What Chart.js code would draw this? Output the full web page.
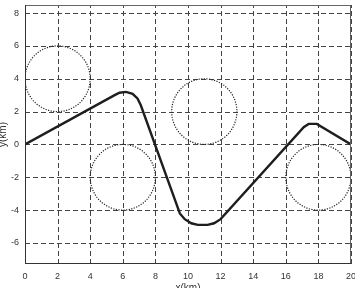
<!DOCTYPE html>
<html><head><meta charset="utf-8">
<script src="https://cdn.jsdelivr.net/npm/chart.js@4"></script>
<style>html,body{margin:0;padding:0;background:#fff;}#wrap{width:355px;height:288px;}</style>
</head><body><div id="wrap"><canvas id="c" width="355" height="288"></canvas></div>
<script>
const pathX = [0, 5.5, 5.8, 6.2, 6.6, 6.9, 7.1, 9.5, 9.8, 10.2, 10.6, 11.2, 11.6, 12.0, 17.1, 17.4, 17.9, 20];
const pathY = [0, 3.0, 3.15, 3.2, 3.08, 2.8, 2.4, -4.2, -4.55, -4.8, -4.9, -4.9, -4.8, -4.55, 1.05, 1.25, 1.25, 0];
const circleX = [2, 6, 11, 18];
const circleY = [4, -2, 2, -2];
const circleR = [2, 2, 2, 2];
const xTicks = [0, 2, 4, 6, 8, 10, 12, 14, 16, 18, 20];
const yTicks = [-6, -4, -2, 0, 2, 4, 6, 8];
const xTitle = 'x(km)';
const yTitle = 'y(km)';

const pathData = pathX.map((x, i) => ({x: x, y: pathY[i]}));
const circleData = circleX.map((x, i) => ({x: x, y: circleY[i], r: circleR[i]}));

const circlePlugin = {
  id: 'circles',
  beforeDatasetsDraw(chart) {
    const {ctx, scales: {x, y}, chartArea: a} = chart;
    ctx.save();
    ctx.strokeStyle = '#444';
    ctx.lineWidth = 1;
    ctx.setLineDash([5, 3]);
    x.ticks.forEach(t => {
      const px = Math.round(x.getPixelForValue(t.value)) + 0.5;
      ctx.beginPath(); ctx.moveTo(px, a.bottom); ctx.lineTo(px, a.top); ctx.stroke();
    });
    y.ticks.forEach(t => {
      const py = Math.round(y.getPixelForValue(t.value)) + 0.5;
      ctx.beginPath(); ctx.moveTo(a.left, py); ctx.lineTo(a.right, py); ctx.stroke();
    });
    ctx.beginPath();
    ctx.rect(a.left, a.top, a.right - a.left, a.bottom - a.top);
    ctx.clip();
    ctx.strokeStyle = '#222';
    ctx.lineWidth = 1.2;
    ctx.setLineDash([1.2, 1.4]);
    circleData.forEach(c => {
      const px = x.getPixelForValue(c.x), py = y.getPixelForValue(c.y);
      const rx = Math.abs(x.getPixelForValue(c.x + c.r) - px);
      const ry = Math.abs(y.getPixelForValue(c.y + c.r) - py);
      ctx.beginPath();
      ctx.ellipse(px, py, rx, ry, 0, 0, Math.PI * 2);
      ctx.stroke();
    });
    ctx.restore();
  },
  afterDraw(chart) {
    const {ctx, chartArea: a} = chart;
    ctx.save();
    ctx.setLineDash([]);
    ctx.strokeStyle = '#666';
    ctx.lineWidth = 1;
    ctx.beginPath();
    ctx.moveTo(a.left, a.top + 0.5); ctx.lineTo(a.right, a.top + 0.5);
    ctx.moveTo(a.right - 0.5, a.top); ctx.lineTo(a.right - 0.5, a.bottom);
    ctx.stroke();
    ctx.strokeStyle = '#333';
    ctx.beginPath();
    ctx.moveTo(a.left + 0.5, a.top); ctx.lineTo(a.left + 0.5, a.bottom);
    ctx.moveTo(a.left, a.bottom - 0.5); ctx.lineTo(a.right, a.bottom - 0.5);
    ctx.stroke();
    ctx.restore();
  }
};

new Chart(document.getElementById('c'), {
  type: 'scatter',
  data: {
    datasets: [{
      data: pathData,
      showLine: true,
      borderColor: '#1e1e1e',
      borderWidth: 2.4,
      pointRadius: 0,
      tension: 0,
      fill: false
    }]
  },
  options: {
    responsive: false,
    animation: false,
    devicePixelRatio: 1,
    layout: {padding: {left: 0, right: 4, top: 5, bottom: 0}},
    plugins: {legend: {display: false}, tooltip: {enabled: false}},
    scales: {
      x: {
        type: 'linear', min: 0, max: 20,
        afterBuildTicks(s) { s.ticks = xTicks.map(v => ({value: v})); },
        afterFit(s) { s.height = 24; s.paddingLeft = 0; s.paddingRight = 0; },
        grid: {display: false, drawTicks: false},
        border: {display: false},
        ticks: {font: {family: 'Liberation Sans, Arial', size: 9}, color: '#333', padding: 7, maxRotation: 0, autoSkip: false},
        title: {display: true, text: xTitle, font: {family: 'Liberation Sans, Arial', size: 10}, color: '#333', padding: {top: 0, bottom: -6}}
      },
      y: {
        type: 'linear', min: -7.28, max: 8.49,
        afterBuildTicks(s) { s.ticks = yTicks.map(v => ({value: v})); },
        afterFit(s) { s.width = 25; s.paddingTop = 0; s.paddingBottom = 0; },
        grid: {display: false, drawTicks: false},
        border: {display: false},
        ticks: {font: {family: 'Liberation Sans, Arial', size: 9}, color: '#333', padding: 6, autoSkip: false},
        title: {display: true, text: yTitle, font: {family: 'Liberation Sans, Arial', size: 10}, color: '#333', padding: {top: -3, bottom: 0}}
      }
    }
  },
  plugins: [circlePlugin]
});
</script></body></html>
